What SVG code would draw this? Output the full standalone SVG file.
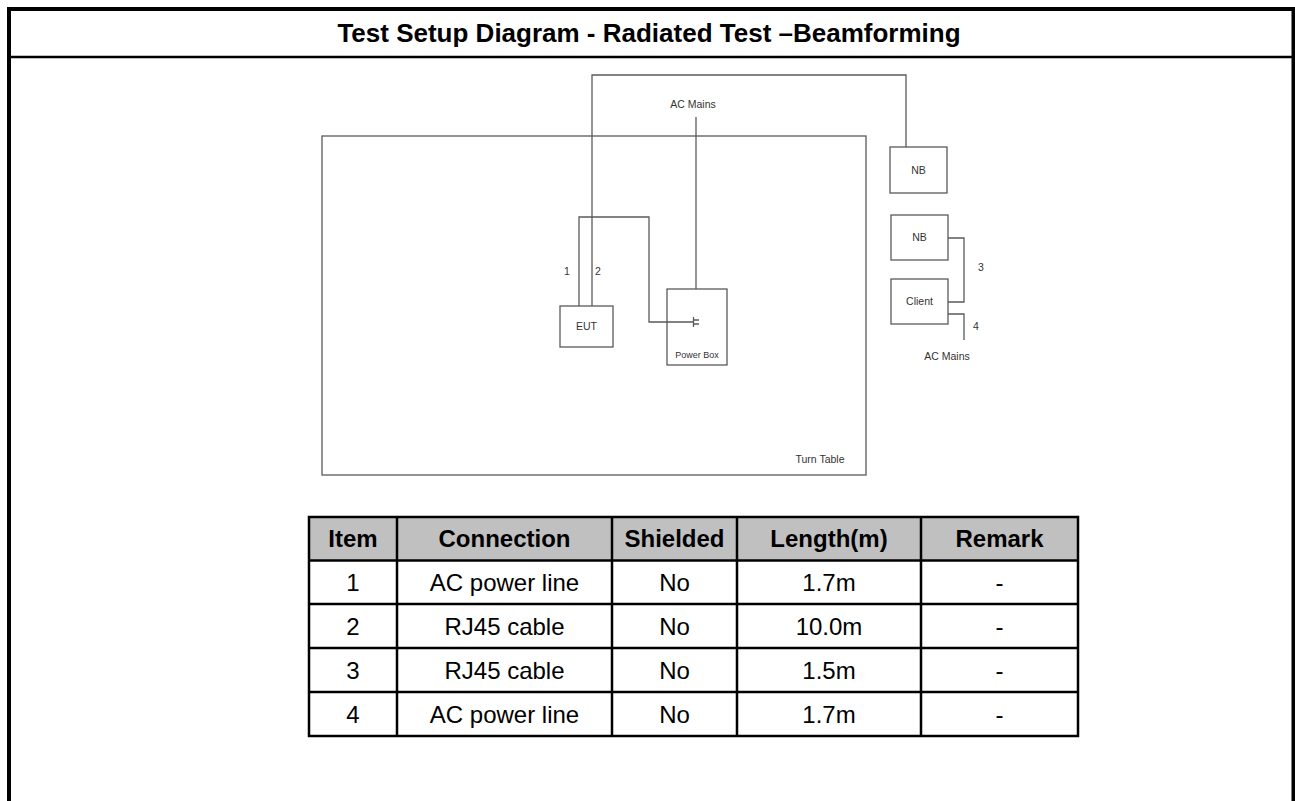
<svg xmlns="http://www.w3.org/2000/svg" width="1295" height="801" viewBox="0 0 1295 801">
<style>
.frame{fill:none;stroke:#000;}
.w{stroke:#5a5a5a;stroke-width:1.3;fill:none;}
.box{fill:#fff;stroke:#5a5a5a;stroke-width:1.3;}
.open{fill:none;}
.lbl{font-family:"Liberation Sans",Arial,sans-serif;font-size:10.5px;fill:#333;text-anchor:middle;}
.sm{font-size:9px;}
.title{font-family:"Liberation Sans",Arial,sans-serif;font-size:26px;font-weight:bold;fill:#000;text-anchor:middle;}
.th{font-family:"Liberation Sans",Arial,sans-serif;font-size:24px;font-weight:bold;fill:#000;text-anchor:middle;}
.td{font-family:"Liberation Sans",Arial,sans-serif;font-size:24px;fill:#000;text-anchor:middle;}
.tl{stroke:#000;stroke-width:2.5;fill:none;}
</style>
<rect width="1295" height="801" fill="#fff"/>
<g id="frame">
<path class="frame" stroke-width="4" d="M9,801 V9 H1293.5 V801"/>
<line class="frame" stroke-width="2.5" x1="9" y1="57" x2="1293" y2="57"/>
<text class="title" x="649" y="42">Test Setup Diagram - Radiated Test –Beamforming</text>
</g>
<g id="turntable">
<rect class="box" x="322" y="136" width="544" height="339"/>
<text class="lbl" x="820" y="463">Turn Table</text>
</g>
<g id="eut">
<rect class="box" x="560" y="306" width="53" height="41"/>
<text class="lbl" x="586.5" y="330">EUT</text>
</g>
<g id="powerbox">
<rect class="box" x="667" y="289" width="60" height="76"/>
<text class="lbl sm" x="697" y="358">Power Box</text>
</g>
<g id="nb1">
<rect class="box" x="890" y="147" width="57" height="46"/>
<text class="lbl" x="918.5" y="174">NB</text>
</g>
<g id="nb2">
<rect class="box" x="891" y="215" width="57" height="45"/>
<text class="lbl" x="919.5" y="241">NB</text>
</g>
<g id="client">
<rect class="box" x="891" y="279" width="57" height="45"/>
<text class="lbl" x="919.5" y="305">Client</text>
</g>
<g id="ac-mains-top"><text class="lbl" x="693" y="108">AC Mains</text></g>
<g id="ac-mains-right"><text class="lbl" x="947" y="360">AC Mains</text></g>
<g id="connectors">
<path class="w" d="M592,306 V75 H906 V147"/>
<path class="w" d="M579,306 V217 H649 V322 H693"/>
<path class="w" d="M693.5,317 V327 M693.5,320 H699 M693.5,324 H699"/>
<path class="w" d="M696,117 V289"/>
<path class="w" d="M948,238 H964 V302 H948"/>
<path class="w" d="M948,314 H964 V340"/>
<text class="lbl" x="567" y="275">1</text>
<text class="lbl" x="598" y="275">2</text>
<text class="lbl" x="981" y="271">3</text>
<text class="lbl" x="976" y="330">4</text>
</g>
<g id="table">
<rect x="309" y="517" width="769" height="43.5" fill="#c0c0c0"/>
<rect class="tl" x="309" y="517" width="769" height="219"/>
<path class="tl" d="M309,560.5 H1078 M309,604 H1078 M309,648 H1078 M309,692 H1078 M397,517 V736 M612,517 V736 M737,517 V736 M921,517 V736"/>
<text class="th" x="353" y="547">Item</text>
<text class="th" x="504.5" y="547">Connection</text>
<text class="th" x="674.5" y="547">Shielded</text>
<text class="th" x="829" y="547">Length(m)</text>
<text class="th" x="999.5" y="547">Remark</text>
<text class="td" x="353" y="591">1</text>
<text class="td" x="504.5" y="591">AC power line</text>
<text class="td" x="674.5" y="591">No</text>
<text class="td" x="829" y="591">1.7m</text>
<text class="td" x="999.5" y="591">-</text>
<text class="td" x="353" y="635">2</text>
<text class="td" x="504.5" y="635">RJ45 cable</text>
<text class="td" x="674.5" y="635">No</text>
<text class="td" x="829" y="635">10.0m</text>
<text class="td" x="999.5" y="635">-</text>
<text class="td" x="353" y="679">3</text>
<text class="td" x="504.5" y="679">RJ45 cable</text>
<text class="td" x="674.5" y="679">No</text>
<text class="td" x="829" y="679">1.5m</text>
<text class="td" x="999.5" y="679">-</text>
<text class="td" x="353" y="723">4</text>
<text class="td" x="504.5" y="723">AC power line</text>
<text class="td" x="674.5" y="723">No</text>
<text class="td" x="829" y="723">1.7m</text>
<text class="td" x="999.5" y="723">-</text>
</g>
</svg>
